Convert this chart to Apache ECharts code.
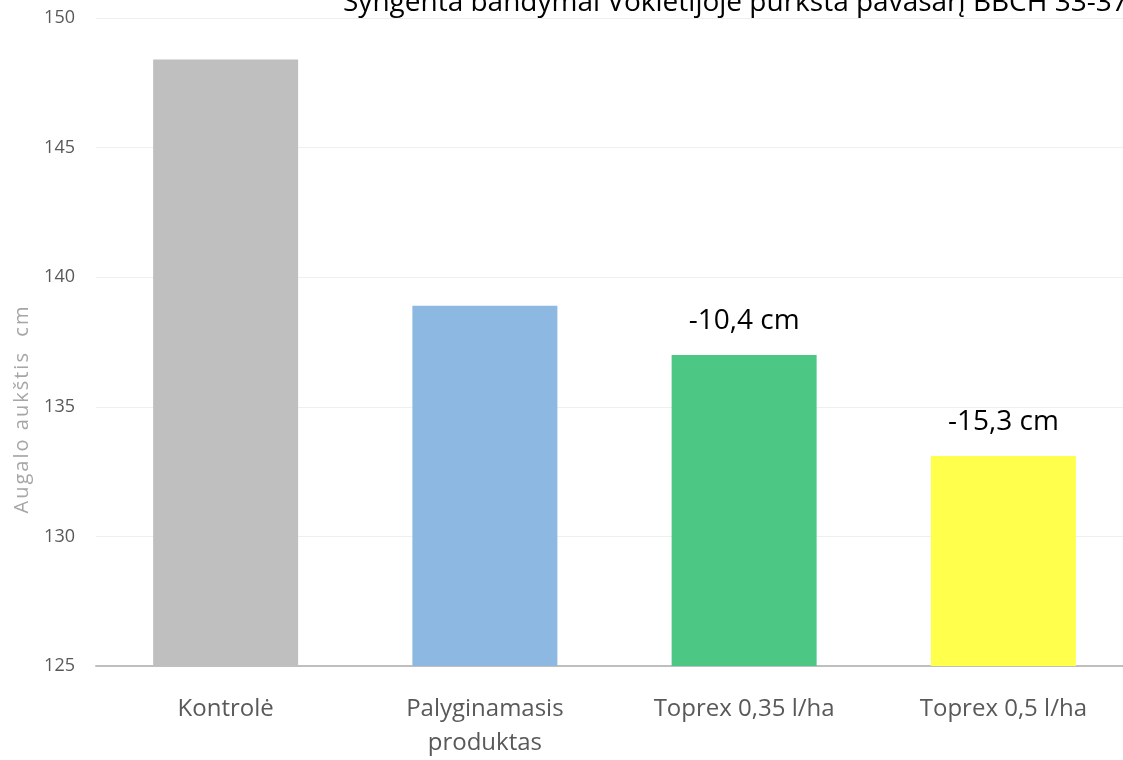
<!DOCTYPE html>
<html><head><meta charset="utf-8">
<script src="https://cdn.jsdelivr.net/npm/echarts@6/dist/echarts.min.js"></script>
<style>html,body{margin:0;padding:0;background:#fff;overflow:hidden}#c{width:1133px;height:760px}</style>
</head><body><div id="c"></div>
<script>
const titleText = 'Syngenta bandymai Vokietijoje purkšta pavasarį BBCH 33-37';
const categories = ['Kontrolė', 'Palyginamasis\nproduktas', 'Toprex 0,35 l/ha', 'Toprex 0,5 l/ha'];
const heights = [148.4, 138.9, 137.0, 133.1];
const barLabels = ['', '', '-10,4 cm', '-15,3 cm'];
const barColors = ['#bfbfbf', '#8cb8e1', '#4cc784', '#ffff4c'];
const yMin = 125, yMax = 150, yStep = 5;
const yName = 'Augalo aukštis  cm';

const chart = echarts.init(document.getElementById('c'));
chart.setOption({
  animation: false,
  grid: {left: 96, right: 0, top: 18, bottom: 89, containLabel: false},
  graphic: [{
    type: 'text', x: 343, y: 17,
    style: {text: titleText, fontSize: 28, fontFamily: 'Open Sans', fill: '#000', verticalAlign: 'bottom'}
  }, {
    type: 'text', x: 22, y: 410, rotation: Math.PI / 2,
    style: {text: yName.split('').join('\u200A'), fontSize: 20, fontFamily: 'Open Sans', fill: '#a6a6a6', align: 'center', verticalAlign: 'middle'}
  }],
  xAxis: {
    type: 'category', data: categories,
    axisLine: {lineStyle: {color: '#bfbfbf', width: 2}},
    axisTick: {show: false},
    axisLabel: {fontSize: 24, color: '#595959', fontFamily: 'Open Sans', margin: 26, lineHeight: 34, interval: 0}
  },
  yAxis: {
    type: 'value', min: yMin, max: yMax, interval: yStep,
    axisLine: {show: false}, axisTick: {show: false},
    axisLabel: {fontSize: 18, color: '#595959', fontFamily: 'Open Sans', margin: 21},
    splitLine: {lineStyle: {color: '#efefef', width: 1}}
  },
  series: [{
    type: 'bar', barWidth: 145,
    data: heights.map((v, i) => ({value: v, itemStyle: {color: barColors[i]}, label: {show: barLabels[i] !== '', formatter: barLabels[i]}})),
    label: {position: 'top', distance: 20, fontSize: 28, color: '#000', fontFamily: 'Open Sans'}
  }]
});
</script></body></html>
